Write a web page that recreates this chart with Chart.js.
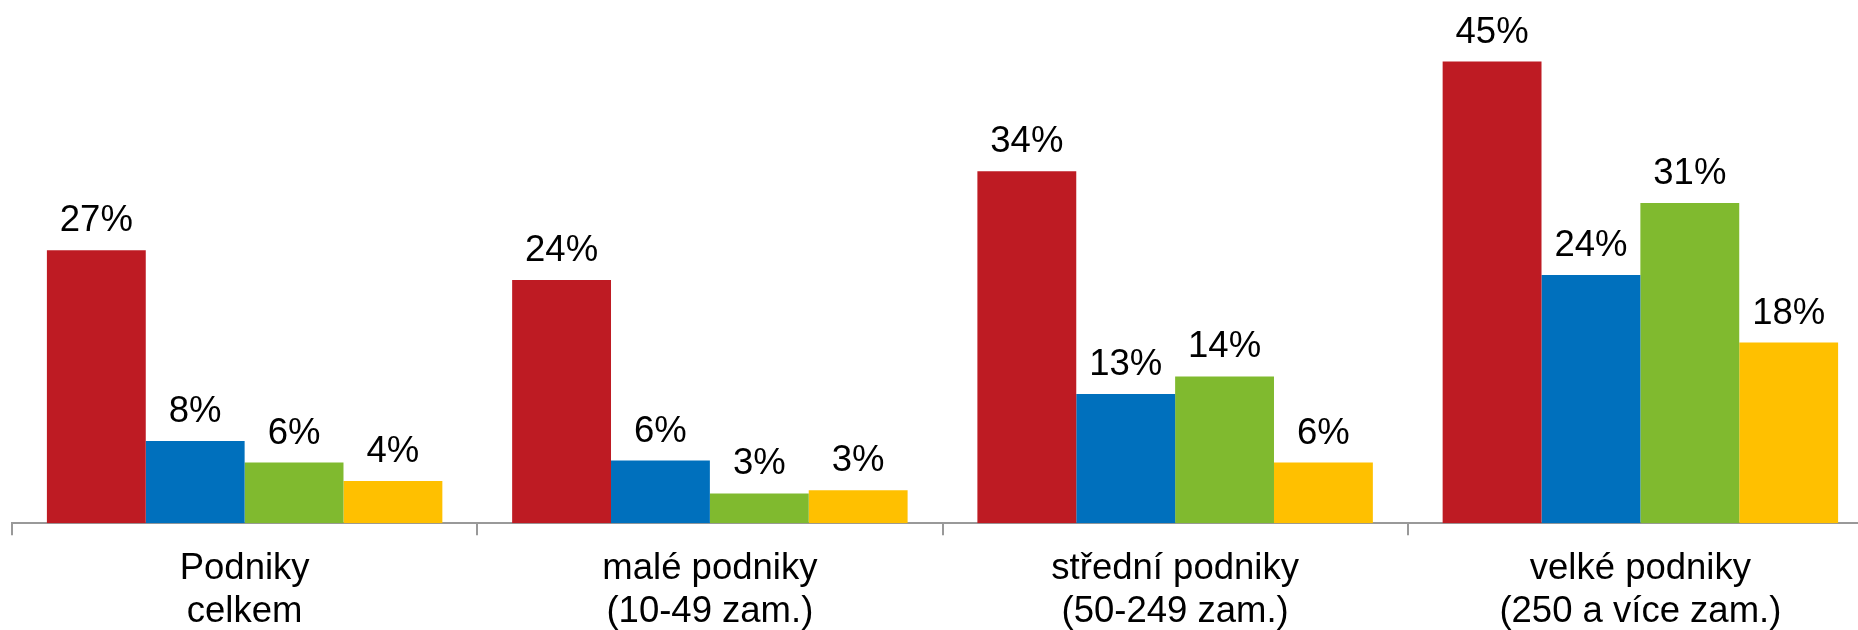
<!DOCTYPE html>
<html>
<head>
<meta charset="utf-8">
<script src="https://cdn.jsdelivr.net/npm/chart.js@4/dist/chart.umd.min.js"></script>
<style>
    html, body { margin: 0; padding: 0; background: #fff; overflow: hidden; }
    #wrap { width: 1880px; height: 654px; }
</style>
</head>
<body>
<div id="wrap"><canvas id="chart"></canvas></div>
<script>
const categories = [
    ['Podniky', 'celkem'],
    ['malé podniky', '(10-49 zam.)'],
    ['střední podniky', '(50-249 zam.)'],
    ['velké podniky', '(250 a více zam.)']
];
const series1 = [26.6, 23.7, 34.3, 45.0];
const series2 = [8.0, 6.1, 12.6, 24.2];
const series3 = [5.9, 2.9, 14.3, 31.2];
const series4 = [4.1, 3.2, 5.9, 17.6];
const colors = ['#BE1B23', '#0070BD', '#80BA2F', '#FFC000'];
const yMax = 51;

const FONT = "'Liberation Sans', Arial, sans-serif";

// value labels above each bar
const valueLabels = {
    id: 'valueLabels',
    afterDatasetsDraw(chart) {
        const ctx = chart.ctx;
        ctx.save();
        ctx.font = '36.5px ' + FONT;
        ctx.fillStyle = '#000';
        ctx.textAlign = 'center';
        ctx.textBaseline = 'alphabetic';
        chart.data.datasets.forEach((ds, i) => {
            chart.getDatasetMeta(i).data.forEach((bar, j) => {
                ctx.fillText(Math.round(ds.data[j]) + '%', bar.x, bar.y - 19);
            });
        });
        ctx.restore();
    }
};

const ctx = document.getElementById('chart').getContext('2d');
new Chart(ctx, {
    type: 'bar',
    data: {
        labels: categories,
        datasets: [series1, series2, series3, series4].map((d, i) => ({
            data: d,
            backgroundColor: colors[i],
            borderWidth: 0,
            categoryPercentage: 0.85,
            barPercentage: 1.0
        }))
    },
    options: {
        responsive: true,
        maintainAspectRatio: false,
        animation: false,
        layout: { padding: { left: 12, right: 7, top: 0, bottom: 8 } },
        plugins: {
            legend: { display: false },
            tooltip: { enabled: false }
        },
        scales: {
            x: {
                grid: {
                    display: true,
                    drawOnChartArea: false,
                    drawTicks: true,
                    tickLength: 12,
                    color: '#999',
                    lineWidth: 2
                },
                border: { display: true, color: '#999', width: 2 },
                ticks: {
                    color: '#000',
                    font: { family: FONT, size: 36.5, lineHeight: 1.19 },
                    padding: 12,
                    maxRotation: 0,
                    autoSkip: false
                }
            },
            y: {
                display: false,
                min: 0,
                max: yMax
            }
        }
    },
    plugins: [valueLabels]
});
</script>
</body>
</html>
